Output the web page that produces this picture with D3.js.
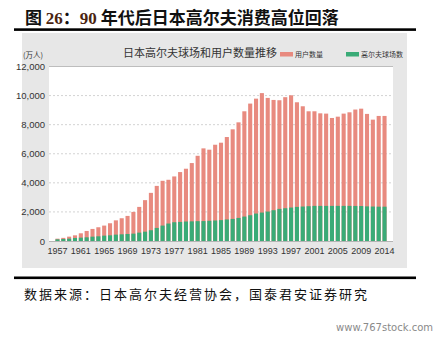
<!DOCTYPE html>
<html><head><meta charset="utf-8">
<script src="https://cdn.jsdelivr.net/npm/d3@7"></script>
<style>
html,body{margin:0;padding:0;background:#fff;}
svg{display:block;}
</style></head>
<body>
<svg id="chart" width="439" height="337"></svg>
<script>
const years = ["1957","1958","1959","1960","1961","1962","1963","1964","1965","1966","1967","1968","1969","1970","1971","1972","1973","1974","1975","1976","1977","1978","1979","1980","1981","1982","1983","1984","1985","1986","1987","1988","1989","1990","1991","1992","1993","1994","1995","1996","1997","1998","1999","2000","2001","2002","2003","2004","2005","2006","2007","2008","2009","2010","2011","2012","2014"];
const users = [160,215,300,390,530,690,830,945,1060,1220,1420,1565,1725,2000,2345,2810,3310,3790,4140,4210,4440,4740,4970,5360,5860,6370,6280,6620,6760,7150,7680,8160,8920,9450,9790,10170,9840,9700,9680,9890,10020,9540,9265,8920,8920,8780,8760,8460,8550,8760,8850,9040,9100,8740,8345,8600,8600];
const courses = [115,138,161,207,230,253,299,322,368,391,437,460,483,506,575,640,740,900,1060,1200,1290,1311,1340,1350,1365,1370,1390,1410,1435,1480,1518,1587,1679,1771,1886,1955,2024,2116,2208,2254,2300,2346,2370,2392,2415,2415,2415,2415,2415,2415,2415,2410,2405,2380,2370,2360,2360];
const yTicks = [0,2000,4000,6000,8000,10000,12000];
const xTickLabels = ["1957","1961","1965","1969","1973","1977","1981","1985","1989","1993","1997","2001","2005","2009","2014"];
const seriesNames = ["用户数量","高尔夫球场数"];
const colors = ["#e88a7f","#3aab77"];

const svg = d3.select("#chart");

// Title
const title = svg.append("text").attr("x",25).attr("y",24)
  .attr("font-family","'Noto Sans CJK SC', sans-serif").attr("font-weight","bold")
  .attr("font-size",17).attr("fill","#111");
title.append("tspan").text("图 ");
title.append("tspan").attr("font-family","'Liberation Serif', serif").attr("fill","#4a2410").text("26");
title.append("tspan").text("：");
title.append("tspan").attr("font-family","'Liberation Serif', serif").attr("fill","#4a2410").text("90");
title.append("tspan").text(" 年代后日本高尔夫消费高位回落");

svg.append("rect").attr("x",14).attr("y",28.3).attr("width",402).attr("height",2.6).attr("fill","#000");

// Panel
svg.append("rect").attr("x",22).attr("y",33).attr("width",385).attr("height",235).attr("fill","#e7e7e7");

const pL=49, pR=393, pT=66.5, pB=241;
svg.append("rect").attr("x",pL).attr("y",pT).attr("width",pR-pL).attr("height",pB-pT).attr("fill","#fff");

const x = d3.scaleBand().domain(years).range([pL,pR]).paddingInner(0.3).paddingOuter(1.1);
const y = d3.scaleLinear().domain([0,12000]).range([pB,pT]);

// grid
svg.append("g").selectAll("line").data(yTicks.filter(d=>d>0 && d<12000)).join("line")
  .attr("x1",pL).attr("x2",pR).attr("y1",d=>y(d)).attr("y2",d=>y(d))
  .attr("stroke","#c8c8c8").attr("stroke-width",0.8).attr("stroke-dasharray","2,2");
svg.append("line").attr("x1",pL).attr("x2",pR).attr("y1",y(12000)).attr("y2",y(12000))
  .attr("stroke","#bdbdbd").attr("stroke-width",1);

// bars
svg.append("g").selectAll("rect").data(years).join("rect")
  .attr("x",d=>x(d)).attr("width",x.bandwidth())
  .attr("y",(d,i)=>y(users[i])).attr("height",(d,i)=>y(0)-y(users[i]))
  .attr("fill",colors[0]);
svg.append("g").selectAll("rect").data(years).join("rect")
  .attr("x",d=>x(d)).attr("width",x.bandwidth())
  .attr("y",(d,i)=>y(courses[i])).attr("height",(d,i)=>y(0)-y(courses[i]))
  .attr("fill",colors[1]);

// axes
const yAxis = d3.axisLeft(y).tickValues(yTicks).tickFormat(d3.format(",")).tickSize(0).tickPadding(4);
const gy = svg.append("g").attr("transform",`translate(${pL},0)`).call(yAxis);
gy.select(".domain").remove();
gy.selectAll("text").attr("font-family","'Liberation Sans Narrow','Arial Narrow',sans-serif").attr("font-size",9.5).attr("fill","#333");

const xAxis = d3.axisBottom(x).tickValues(xTickLabels).tickSize(0).tickPadding(7);
const gx = svg.append("g").attr("transform",`translate(0,${pB})`).call(xAxis);
gx.select(".domain").attr("stroke","#b5b5b5").attr("d",`M${pL},0.5H${pR}`);
gx.selectAll("text").attr("font-family","'Liberation Sans Narrow','Arial Narrow',sans-serif").attr("font-size",9).attr("fill","#333");

// unit
svg.append("text").attr("x",23).attr("y",58).attr("font-family","'Noto Sans CJK SC',sans-serif")
  .attr("font-size",7.5).attr("fill","#333").text("(万人)");

// chart title
svg.append("text").attr("x",200).attr("y",57).attr("text-anchor","middle")
  .attr("font-family","'Noto Sans CJK SC',sans-serif").attr("font-size",11).attr("fill","#333")
  .text("日本高尔夫球场和用户数量推移");

// legend
const legX = [280,346];
const lg = svg.append("g").selectAll("g").data(seriesNames).join("g")
  .attr("transform",(d,i)=>`translate(${legX[i]},52)`);
lg.append("rect").attr("width",13).attr("height",4.5).attr("fill",(d,i)=>colors[i]);
lg.append("text").attr("x",15).attr("y",5).attr("font-family","'Noto Sans CJK SC',sans-serif")
  .attr("font-size",7).attr("fill","#333").text(d=>d);

// footer
svg.append("rect").attr("x",14).attr("y",276.5).attr("width",402).attr("height",2.6).attr("fill","#000");
svg.append("text").attr("x",24).attr("y",299).attr("font-family","'Noto Sans CJK SC',sans-serif")
  .attr("font-size",13).attr("letter-spacing",2).attr("fill","#111")
  .text("数据来源：日本高尔夫经营协会，国泰君安证券研究");
svg.append("text").attr("x",433).attr("y",331).attr("text-anchor","end")
  .attr("font-family","'DejaVu Sans',sans-serif").attr("font-size",10).attr("fill","#8a8a8a")
  .text("www.767stock.com");
</script>
</body></html>
